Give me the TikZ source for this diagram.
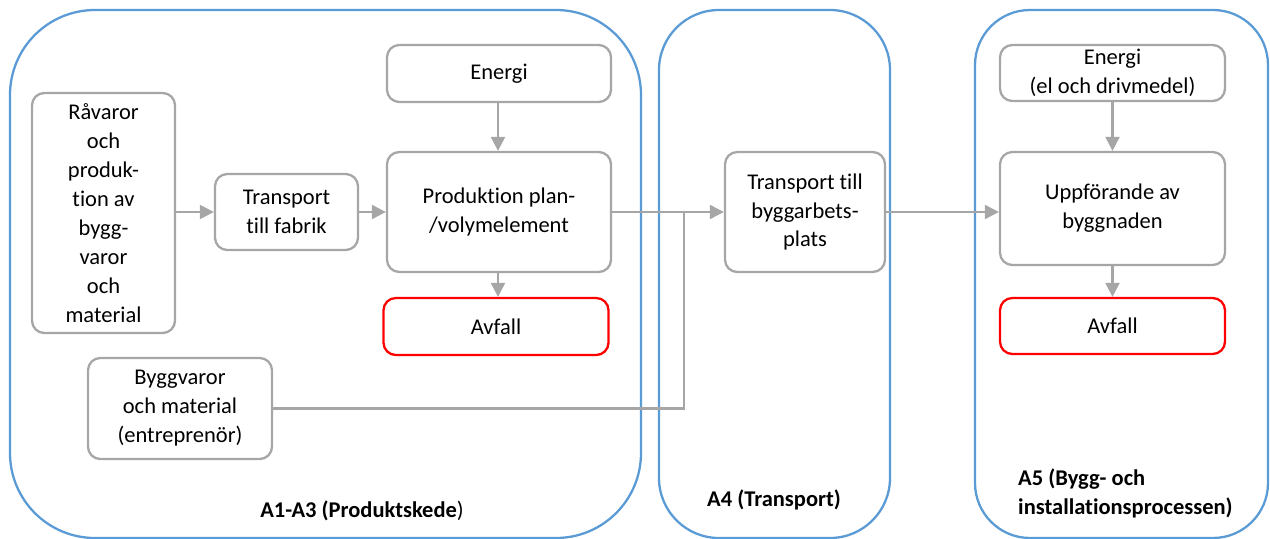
\documentclass[tikz,border=0pt]{standalone}
\usepackage{fontspec}
\setmainfont{Carlito}[RawFeature={-liga;-clig;-calt;-dlig}]
\usetikzlibrary{arrows.meta}
\definecolor{boxgray}{HTML}{A6A6A6}
\definecolor{stageblue}{HTML}{5B9BD5}
\definecolor{wastered}{HTML}{FF0000}

\begin{document}
\begin{tikzpicture}[
	box/.style={draw=boxgray,line width=1.3pt,rounded corners=7pt,align=center,inner sep=2pt,font=\fontsize{12.8}{16.5}\selectfont},
	waste/.style={box,draw=wastered},
	flow/.style={draw=boxgray,line width=1.3pt,-{Triangle[length=8pt,width=8pt]}},
	stage/.style={draw=stageblue,line width=1.3pt},
	stagelabel/.style={font=\fontsize{12.8}{16.5}\selectfont\bfseries},
	]
		\begin{scope}[x=0.2mm,y=-0.2mm]
			\useasboundingbox (0,0) rectangle (1270,539);
			%stages
			\draw[stage,rounded corners=17mm] (10,10) rectangle (641,538);
			\draw[stage,rounded corners=12mm] (659,10) rectangle (890,538);
			\draw[stage,rounded corners=11mm] (975,10) rectangle (1268,538);
			%A1-A3
			\node[box,minimum width=28.6mm,minimum height=48mm] (raw) at (103.5,213) {Råvaror\\och\\produk-\\tion av\\bygg-\\varor\\och\\material};
			\node[box,minimum width=28.6mm,minimum height=15.2mm] (tfab) at (286.5,212) {Transport\\till fabrik};
			\node[box,minimum width=44.8mm,minimum height=11.4mm] (energy) at (499,73.5) {Energi};
			\node[box,minimum width=44.8mm,minimum height=24mm] (prod) at (499,212) {Produktion plan-\\/volymelement};
			\node[waste,minimum width=45mm,minimum height=11.4mm] (waste) at (496,326.5) {Avfall};
			\node[box,minimum width=36.8mm,minimum height=20.2mm] (bygg) at (180,408.5) {Byggvaror\\och material\\(entreprenör)};
			%A4
			\node[box,minimum width=32mm,minimum height=24mm] (tsite) at (805,212) {Transport till\\byggarbets-\\plats};
			%A5
			\node[box,minimum width=45mm,minimum height=11.2mm] (energysite) at (1112.5,73) {Energi\\(el och drivmedel)};
			\node[box,minimum width=45mm,minimum height=22.6mm] (erect) at (1112.5,208.5) {Uppförande av\\byggnaden};
			\node[waste,minimum width=45mm,minimum height=11.2mm] (wastesite) at (1112.5,326) {Avfall};
			%labels
			\node[stagelabel] (lprod) at (362,511) {A1-A3 (Produktskede{\mdseries)}};
			\node[stagelabel] (ltrans) at (774,500) {A4 (Transport)};
			\node[stagelabel,anchor=west,align=left] (lsite) at (1012,493) {A5 (Bygg- och\\installationsprocessen)};
			%arrows
			\coordinate (join) at (684,212);
			\draw[flow] (raw.east |- tfab.west) -- (tfab.west);
			\draw[flow] (tfab.east) -- (tfab.east -| prod.west);
			\draw[flow] (prod.east |- tsite.west) -- (tsite.west);
			\draw[flow] (tsite.east) -- (tsite.east -| erect.west);
			\draw[draw=boxgray,line width=1.3pt] (bygg.east) -| (join);
			\draw[flow] (energy.south -| 498,0) -- (prod.north -| 498,0);
			\draw[flow] (prod.south -| 498,0) -- (waste.north -| 498,0);
			\draw[flow] (energysite) -- (erect);
			\draw[flow] (erect) -- (wastesite);
		\end{scope}
	\end{tikzpicture}
\end{document}
